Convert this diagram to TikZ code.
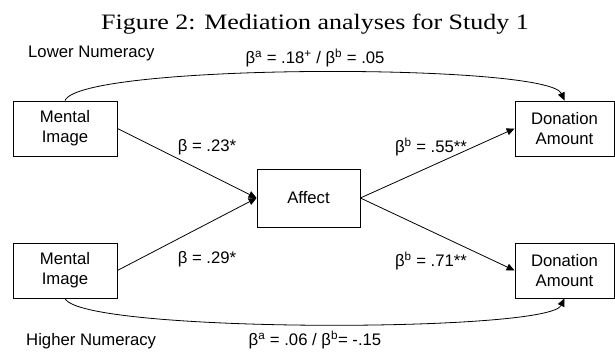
\documentclass[tikz,border=0pt]{standalone}
\usepackage{graphicx}
\usepackage{fontspec}
\setmainfont{Liberation Sans}
\newfontfamily\titlefont{Liberation Serif}
\usetikzlibrary{arrows.meta}
\tikzset{
  box/.style={draw, line width=0.8pt, minimum width=104pt, minimum height=55pt, align=center, inner sep=0pt,
    font=\fontsize{16.7}{20}\selectfont},
  lbl/.style={inner sep=0pt, font=\fontsize{16.7}{20}\selectfont},
  conn/.style={line width=0.8pt, -{Triangle[length=8pt,width=7pt]}},
}
\begin{document}
\begin{tikzpicture}[x=1pt,y=-1pt]
\useasboundingbox (0,0) rectangle (615,352);
\node[inner sep=0pt, anchor=base, font=\titlefont\fontsize{22}{26}\selectfont] (title) at (315,29.5) {\scalebox{1.18}[1]{Figure 2: Mediation analyses for Study 1}};
\node[lbl, anchor=west] (lower) at (28,53) {Lower Numeracy};
\node[lbl, anchor=west] (higher) at (26,341) {Higher Numeracy};
\node[box] (ml) at (65,128.5) {Mental\\Image};
\node[box] (ml2) at (65,270.5) {Mental\\Image};
\node[box, minimum width=99pt] (dl) at (564.5,128.5) {Donation\\Amount};
\node[box, minimum width=99pt] (dl2) at (564.5,270.5) {Donation\\Amount};
\node[box, minimum width=103pt, minimum height=58pt] (af) at (308.5,198) {Affect};
\draw[conn] (ml.east) -- (af.west);
\draw[conn] (ml2.east) -- (af.west);
\draw[conn] (af.east) -- (dl.west);
\draw[conn] (af.east) -- (dl2.west);
\draw[conn] (ml.north) .. controls (80,63) and (548,63) .. (dl.north);
\draw[conn] (ml2.south) .. controls (80,333) and (548,333) .. (dl2.south);
\node[lbl] (la) at (315,58) {β\textsuperscript{a} = .18\textsuperscript{+} / β\textsuperscript{b} = .05};
\node[lbl] (lb) at (207,147) {β = .23*};
\node[lbl] (lc) at (431,147) {β\textsuperscript{b} = .55**};
\node[lbl] (ld) at (207,259) {β = .29*};
\node[lbl] (le) at (431,261) {β\textsuperscript{b} = .71**};
\node[lbl] (lf) at (315,340) {β\textsuperscript{a} = .06 / β\textsuperscript{b}= -.15};
\end{tikzpicture}
\end{document}
